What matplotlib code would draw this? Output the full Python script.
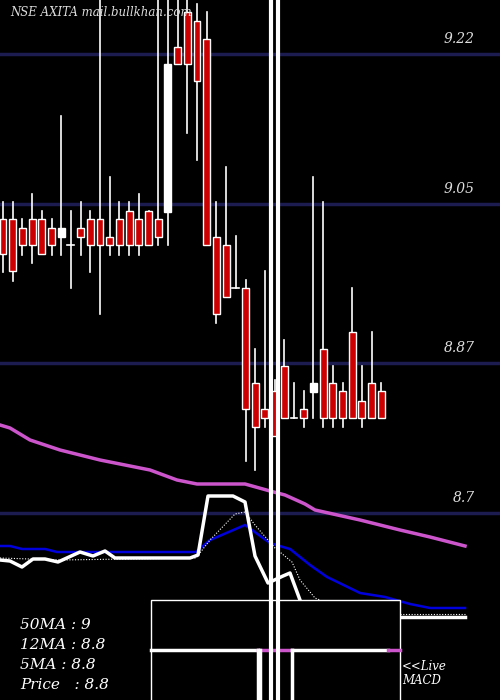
import matplotlib
matplotlib.use("Agg")
import matplotlib.pyplot as plt
from matplotlib.patches import Rectangle

# price scale of reference: 9.22 at px 54, 882 px per unit
def px2p(y):
    return round(9.22 - (y - 54) / 882.0, 4)

# candle values (prices)
opens_px  = [219,219,228,219,219,228,237,245,228,219,219,237,219,211,219,211,219,212,47,12,21,39,237,245,288,288,383,409,391,366,418,409,392,349,383,391,332,401,383,391]
closes_px = [254,271,245,245,254,245,228,245,237,245,245,245,245,245,245,245,237,64,64,64,81,245,314,297,288,409,427,418,436,418,418,418,383,418,418,418,418,418,418,418]
highs_px  = [202,202,219,194,211,219,116,211,202,211,0,177,202,202,194,211,0,0,0,0,4,12,202,167,236,280,349,271,380,340,383,391,177,202,366,383,288,366,332,383]
lows_px   = [272,281,255,263,254,255,255,288,255,272,314,255,255,255,255,245,245,245,64,133,160,245,323,297,288,461,470,427,436,418,418,427,418,427,427,427,418,427,418,418]
opens  = [px2p(v) for v in opens_px]
closes = [px2p(v) for v in closes_px]
highs  = [px2p(v) for v in highs_px]
lows   = [px2p(v) for v in lows_px]
# white (rising) candles
up = [6, 17, 32]

grid_levels = [9.22, 9.05, 8.87, 8.7]
grid_labels = ["9.22", "9.05", "8.87", "8.7"]

# moving averages (pixel coordinates)
ma50_x = [0,10,30,60,100,150,177,197,245,270,285,305,315,360,400,430,465]
ma50_y = [425,428,440,450,460,470,480,484,484,491,495,504,510,520,530,537,546]
ma12_x = [0,10,22,45,57,196,210,245,270,283,290,310,327,360,385,410,430,465]
ma12_y = [546,546,549,549,552,552,540,525,543,547,549,565,577,593,597,604,608,608]
ma5_x = [0,10,22,33,45,58,80,93,105,115,190,198,208,233,245,255,268,283,290,300]
ma5_y = [560,561,567,559,559,562,552,556,551,558,558,555,496,496,502,556,583,576,573,600]
ma5b_x = [400,465]; ma5b_y = [617,617]
dot_x = [0,60,196,210,235,245,255,275,292,300,315,320]
dot_y = [558,560,558,540,514,512,525,548,562,580,598,600]
dotb_x = [400,465]; dotb_y = [614,614]

W, H = 500, 700
fig = plt.figure(figsize=(5, 7), dpi=100, facecolor="black")
ax = fig.add_axes([0, 0, 1, 1], facecolor="black")
ax.set_xlim(-3 / 9.7, (W - 3) / 9.7)
ax.set_ylim(px2p(700), 9.22 + 54 / 882.0)
ax.axis("off")

for lv in grid_levels:
    ax.axhline(lv, color="#1c1c50", lw=2.5, zorder=1)

bw = 0.72
for i in range(len(opens)):
    o, c, h, l = opens[i], closes[i], highs[i], lows[i]
    ax.plot([i, i], [l, h], color="white", lw=1.2, zorder=2)
    lo, hi = min(o, c), max(o, c)
    face = "white" if i in up else "#cc0000"
    if hi - lo < 0.002:
        ax.plot([i - bw / 2, i + bw / 2], [lo, lo], color="white", lw=1.2, zorder=3)
    else:
        ax.add_patch(Rectangle((i - bw / 2, lo), bw, hi - lo, facecolor=face,
                               edgecolor="white", lw=1, zorder=3))

ov = fig.add_axes([0, 0, 1, 1], facecolor="none")
ov.set_xlim(0, W); ov.set_ylim(H, 0); ov.axis("off")

for lv, lb in zip(grid_levels, grid_labels):
    y = 54 + (9.22 - lv) * 882
    ov.text(475, y - 8, lb, color="#dddddd", fontsize=10, style="italic",
            family="DejaVu Serif", ha="right", va="bottom")

ov.plot(ma50_x, ma50_y, color="#cc55cc", lw=2.5)
ov.plot(ma12_x, ma12_y, color="#0000dd", lw=1.8)
ov.plot(ma5_x, ma5_y, color="white", lw=2.5)
ov.plot(ma5b_x, ma5b_y, color="white", lw=2.5)
ov.plot(dot_x, dot_y, color="white", lw=0.8, ls=(0, (1, 1.5)))
ov.plot(dotb_x, dotb_y, color="white", lw=0.8, ls=(0, (1, 1.5)))

# MACD panel
ov.add_patch(Rectangle((151, 600), 249, 110, facecolor="black", edgecolor="white", lw=1, zorder=5))
ov.plot([151, 258], [650, 650], color="white", lw=2.5, zorder=6)
ov.plot([258, 292], [650, 650], color="#cc55cc", lw=2.5, zorder=6)
ov.plot([292, 388], [650, 650], color="white", lw=2.5, zorder=6)
ov.plot([388, 400], [650, 650], color="#cc55cc", lw=2.5, zorder=6)
for xx in [258, 260, 292]:
    ov.plot([xx, xx], [650, 700], color="white", lw=2.5, zorder=6)
for xx in [270.5, 277.5]:
    ov.plot([xx, xx], [0, 700], color="white", lw=3, zorder=7)

ov.text(10, 12, "NSE AXITA mail.bullkhan.com", color="#dddddd", fontsize=8.5,
        style="italic", family="DejaVu Serif", va="center")
for j, t in enumerate(["50MA : 9", "12MA : 8.8", "5MA : 8.8", "Price   : 8.8"]):
    ov.text(20, 625 + 20 * j, t, color="white", fontsize=11, style="italic",
            family="DejaVu Serif", va="center")
ov.text(402, 666, "<<Live", color="white", fontsize=8.5, style="italic", family="DejaVu Serif", va="center")
ov.text(402, 681, "MACD", color="white", fontsize=8.5, style="italic", family="DejaVu Serif", va="center")

fig.savefig("out.png", dpi=100, facecolor="black")
